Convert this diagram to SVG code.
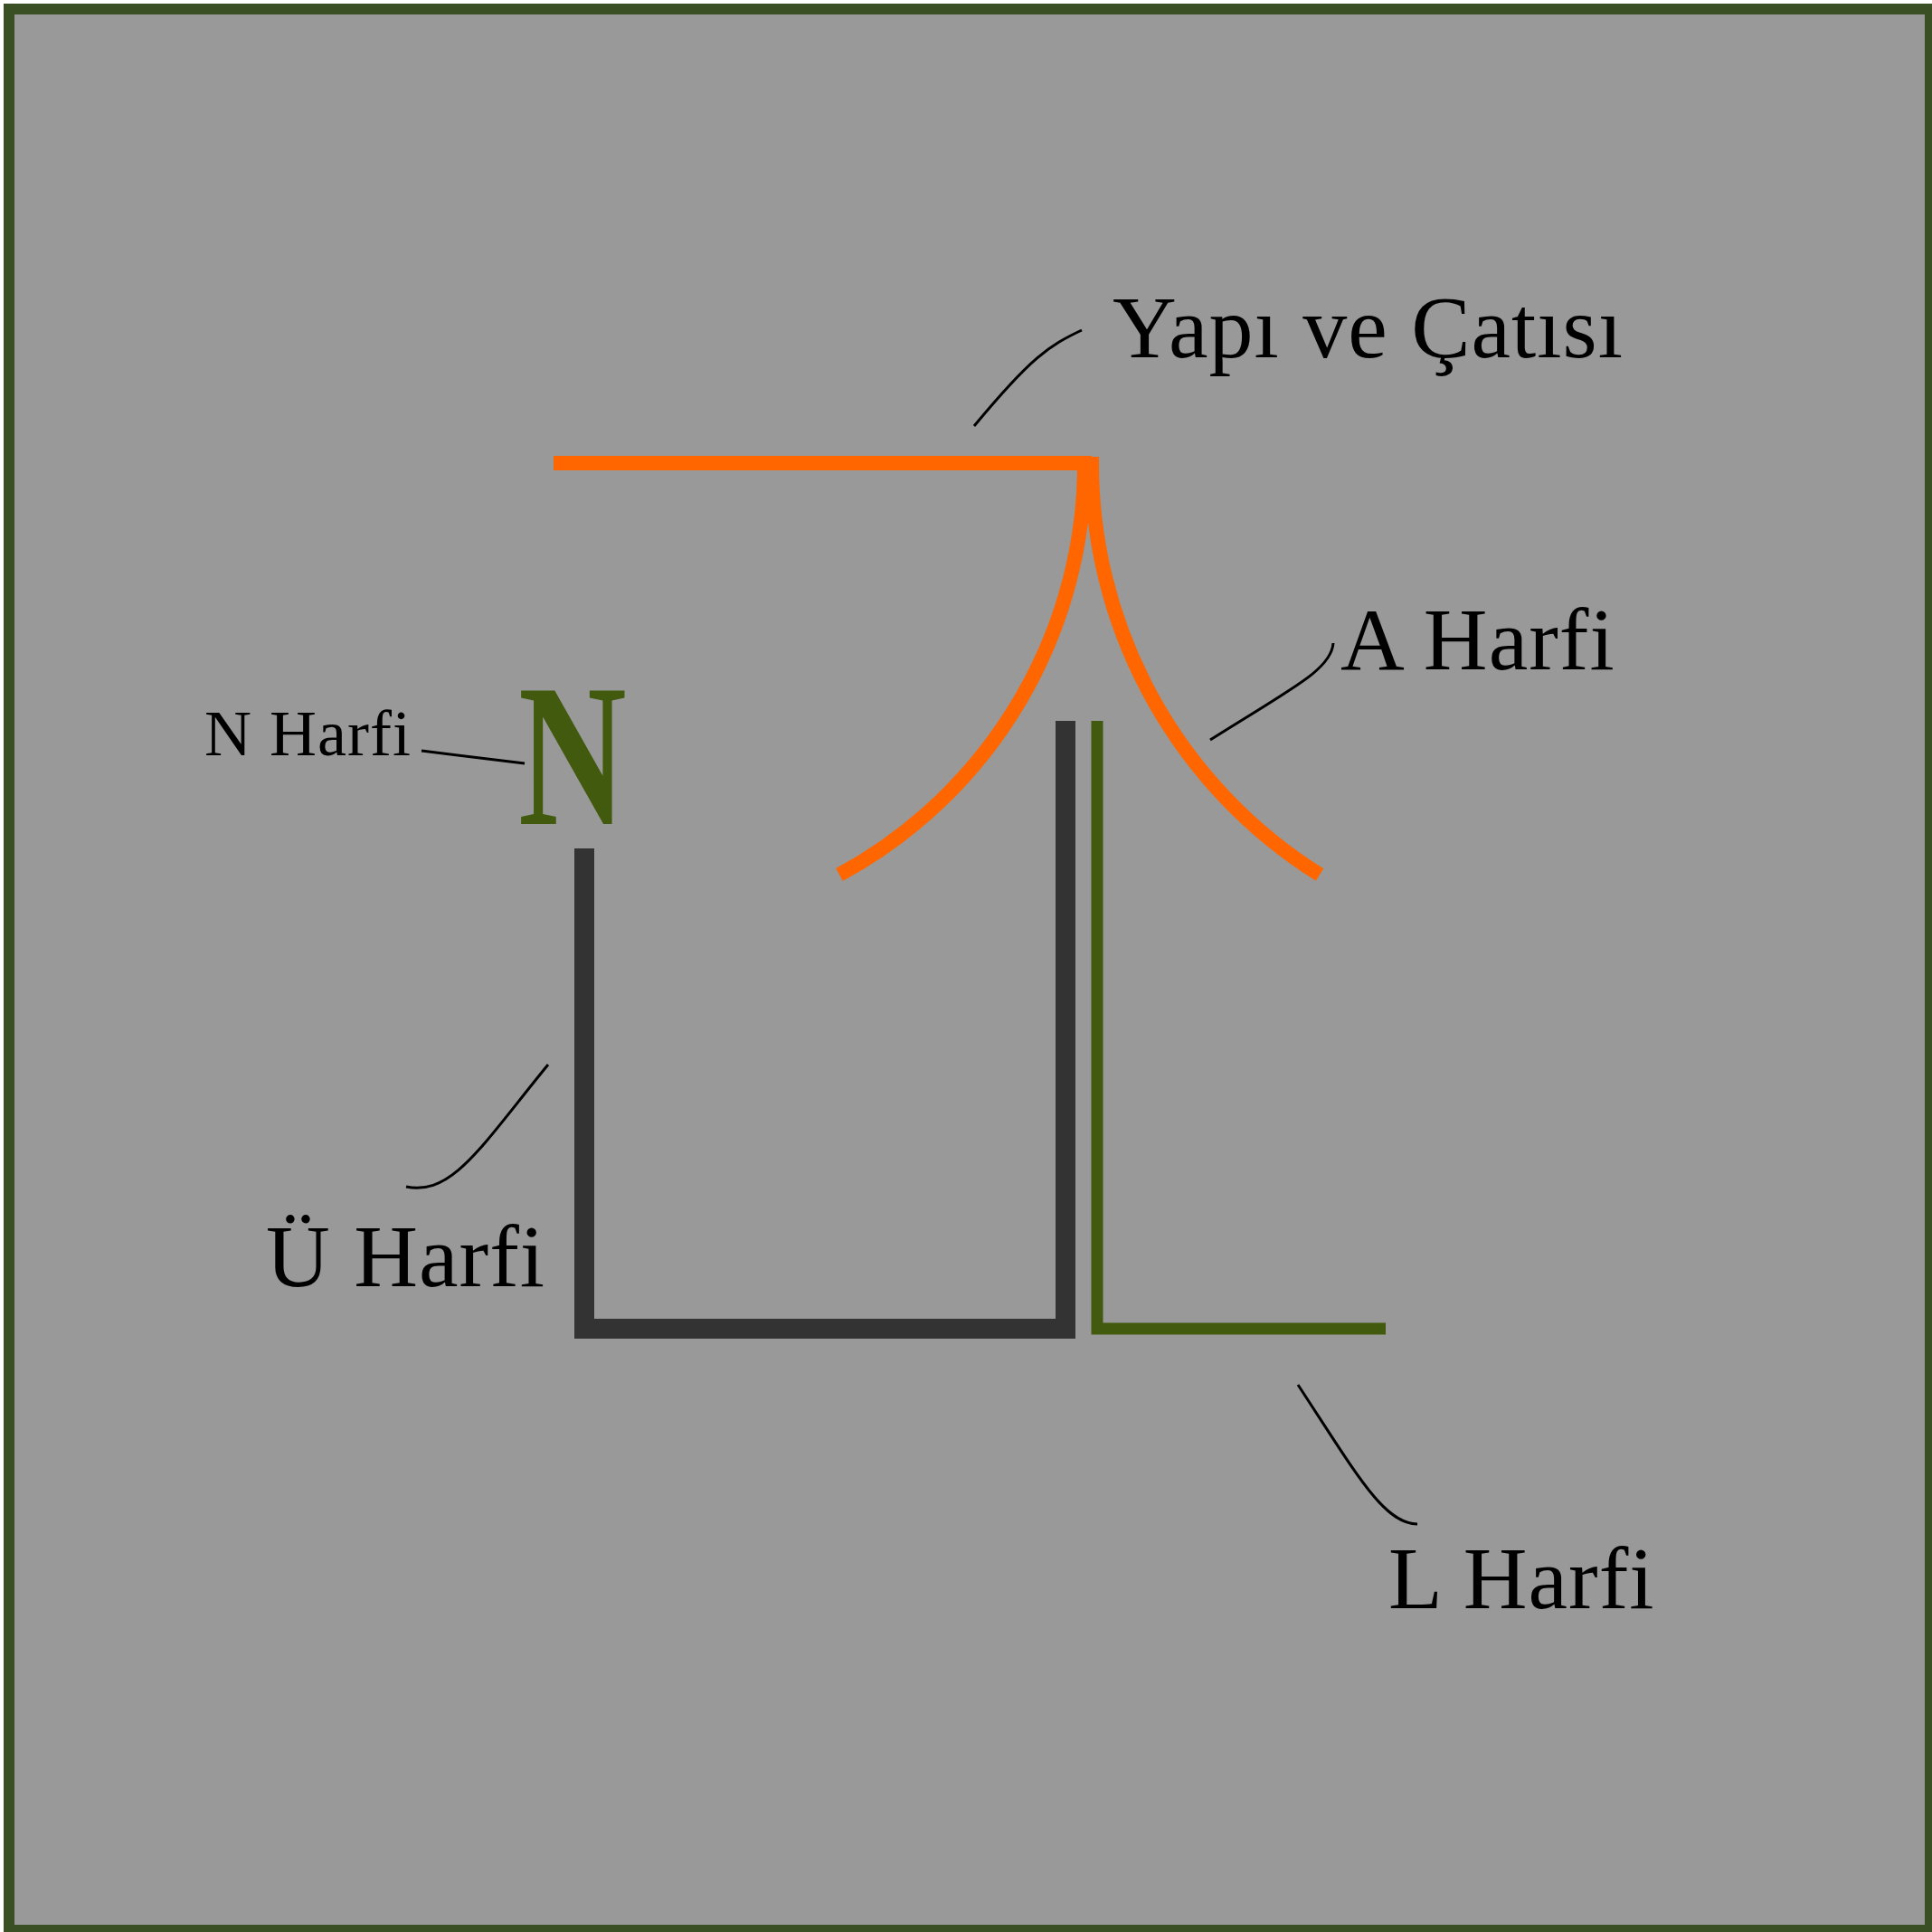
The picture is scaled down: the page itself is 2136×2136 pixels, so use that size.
<svg xmlns="http://www.w3.org/2000/svg" width="2136" height="2136" viewBox="0 0 2136 2136">
<style>
.lbl{font-family:"Liberation Serif","Times New Roman",serif;fill:#000;letter-spacing:1px}
.lead{fill:none;stroke:#000;stroke-width:3}
</style>
<rect x="10" y="10" width="2124" height="2124" fill="#999999" stroke="#3b4f25" stroke-width="12"/>
<g id="roof">
<path d="M612 512 H1207" fill="none" stroke="#ff6600" stroke-width="16"/>
<path d="M1199 505 A517 517 0 0 1 928 967" fill="none" stroke="#ff6600" stroke-width="16"/>
<path d="M1207 505 A537 537 0 0 0 1459 967" fill="none" stroke="#ff6600" stroke-width="16"/>
</g>
<g id="u-letter">
<path d="M646 938 V1469 H1178 V797" fill="none" stroke="#333333" stroke-width="22"/>
</g>
<g id="l-letter">
<path d="M1213 797 V1469 H1532" fill="none" stroke="#425a0e" stroke-width="13"/>
</g>
<g id="n-letter">
<text x="0" y="0" transform="translate(573 911) scale(0.74 1)" font-family="Liberation Serif" font-weight="bold" font-size="224" fill="#425a0e">N</text>
</g>
<g id="connectors">
<path class="lead" d="M1196 365 C1160 382 1140 395 1077 471"/>
<path class="lead" d="M1474 711 C1472 740 1430 760 1338 818"/>
<path class="lead" d="M466 830 L580 844"/>
<path class="lead" d="M606 1177 C530 1270 500 1322 449 1312"/>
<path class="lead" d="M1435 1531 C1500 1630 1530 1685 1567 1685"/>
</g>
<g id="labels">
<text class="lbl" x="1230" y="395" font-size="98">Yapı ve Çatısı</text>
<text class="lbl" x="1482" y="740" font-size="98">A Harfi</text>
<text class="lbl" x="226" y="835" font-size="72">N Harfi</text>
<text class="lbl" x="294" y="1422" font-size="98">Ü Harfi</text>
<text class="lbl" x="1535" y="1778" font-size="98">L Harfi</text>
</g>
</svg>
